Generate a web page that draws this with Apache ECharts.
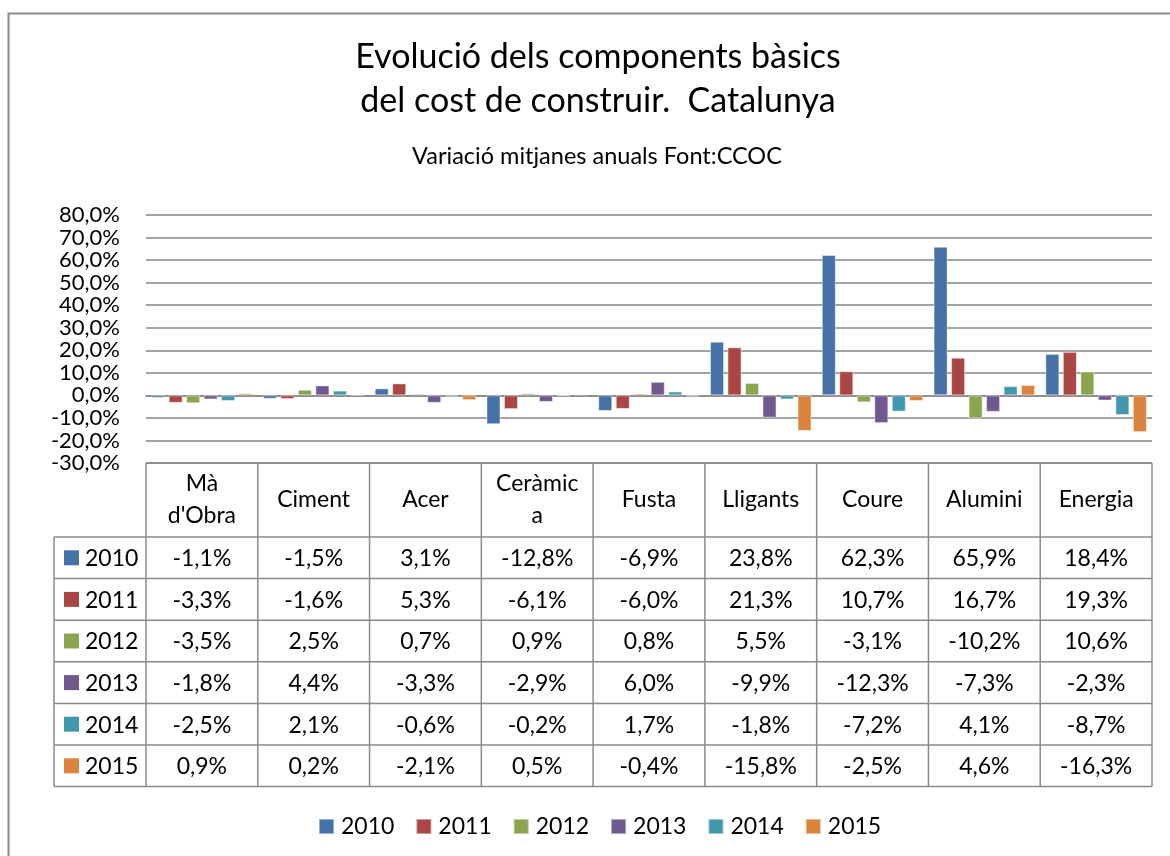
<!DOCTYPE html>
<html>
<head>
<meta charset="utf-8">
<script src="https://cdn.jsdelivr.net/npm/echarts@6/dist/echarts.min.js"></script>
<style>html,body{margin:0;padding:0;background:#fff}#c{width:1170px;height:856px}</style>
</head>
<body>
<div id="c"></div>
<script>
var categories = ["Mà\nd'Obra", "Ciment", "Acer", "Ceràmic\na", "Fusta", "Lligants", "Coure", "Alumini", "Energia"];
var years = ["2010", "2011", "2012", "2013", "2014", "2015"];
var v2010 = [-1.1, -1.5, 3.1, -12.8, -6.9, 23.8, 62.3, 65.9, 18.4];
var v2011 = [-3.3, -1.6, 5.3, -6.1, -6.0, 21.3, 10.7, 16.7, 19.3];
var v2012 = [-3.5, 2.5, 0.7, 0.9, 0.8, 5.5, -3.1, -10.2, 10.6];
var v2013 = [-1.8, 4.4, -3.3, -2.9, 6.0, -9.9, -12.3, -7.3, -2.3];
var v2014 = [-2.5, 2.1, -0.6, -0.2, 1.7, -1.8, -7.2, 4.1, -8.7];
var v2015 = [0.9, 0.2, -2.1, 0.5, -0.4, -15.8, -2.5, 4.6, -16.3];
var seriesValues = [v2010, v2011, v2012, v2013, v2014, v2015];
var colors = ['#4572A7', '#AA4643', '#89A54E', '#71588F', '#4198AF', '#DB843D'];
var yMin = -30, yMax = 80, yStep = 10;

var FONT = 'Lato, "Open Sans", sans-serif';
var W = 1170, H = 856;
var gL = 146, gR = 1152, gT = 215, gB = 463;
var headerH = 74, rowH = 41.6, labelL = 54;
var colW = (gR - gL) / categories.length;
var lineColor = '#8a8a8a';
var cellFont = '23px ' + FONT;

function fmt(v) { return v.toFixed(1).replace('.', ',') + '%'; }

var graphics = [];
// outer chart border
graphics.push({type: 'rect', shape: {x: 8.5, y: 13.5, width: 1300, height: 1000}, style: {fill: 'none', stroke: '#8c8c8c', lineWidth: 2}, silent: true});
var rowTop = gB + headerH;
var tableBottom = rowTop + rowH * years.length;
// horizontal lines
graphics.push({type: 'line', shape: {x1: gL, y1: gB, x2: gR, y2: gB}, style: {stroke: lineColor, lineWidth: 1.5}});
for (var k = 0; k <= years.length; k++) {
  var y = rowTop + k * rowH;
  graphics.push({type: 'line', shape: {x1: labelL, y1: y, x2: gR, y2: y}, style: {stroke: lineColor, lineWidth: 1.5}});
}
// vertical lines
graphics.push({type: 'line', shape: {x1: labelL, y1: rowTop, x2: labelL, y2: tableBottom}, style: {stroke: lineColor, lineWidth: 1.5}});
for (var i = 0; i <= categories.length; i++) {
  var x = gL + i * colW;
  graphics.push({type: 'line', shape: {x1: x, y1: gB, x2: x, y2: tableBottom}, style: {stroke: lineColor, lineWidth: 1.5}});
}
// header texts
categories.forEach(function (c, i) {
  graphics.push({type: 'text', x: gL + (i + 0.5) * colW, y: gB + headerH / 2,
    style: {text: c, font: cellFont, fill: '#000', align: 'center', verticalAlign: 'middle', lineHeight: 32}});
});
// rows
years.forEach(function (yr, r) {
  var cy = rowTop + (r + 0.5) * rowH;
  graphics.push({type: 'rect', shape: {x: 64, y: cy - 7.5, width: 15, height: 15}, style: {fill: colors[r]}});
  graphics.push({type: 'text', x: 85, y: cy + 1, style: {text: yr, font: cellFont, fill: '#000', align: 'left', verticalAlign: 'middle'}});
  seriesValues[r].forEach(function (v, i) {
    graphics.push({type: 'text', x: gL + (i + 0.5) * colW, y: cy + 1,
      style: {text: fmt(v), font: cellFont, fill: '#000', align: 'center', verticalAlign: 'middle'}});
  });
});

var series = years.map(function (yr, r) {
  return {
    name: yr, type: 'bar', data: seriesValues[r], barWidth: 14, barGap: '25%',
    itemStyle: {color: colors[r], borderColor: 'rgba(255,255,255,0.45)', borderWidth: 1},
    animation: false
  };
});

var chart = echarts.init(document.getElementById('c'), null, {renderer: 'canvas'});
chart.setOption({
  backgroundColor: '#fff',
  animation: false,
  title: [
    {text: 'Evolució dels components bàsics\ndel cost de construir.  Catalunya', left: 598, textAlign: 'center', top: 35, padding: 0,
      textStyle: {fontFamily: FONT, fontSize: 34, fontWeight: 'normal', color: '#000', lineHeight: 44}},
    {text: 'Variació mitjanes anuals Font:CCOC', left: 597, textAlign: 'center', top: 144, padding: 0,
      textStyle: {fontFamily: FONT, fontSize: 23.5, fontWeight: 'normal', color: '#000'}}
  ],
  legend: {
    data: years, left: 318, top: 815, padding: 0, icon: 'rect', itemWidth: 15, itemHeight: 15, itemGap: 21,
    textStyle: {fontFamily: FONT, fontSize: 23, color: '#000', padding: [0, 0, 0, 2]}
  },
  grid: {left: gL, right: W - gR, top: gT, bottom: H - gB, containLabel: false},
  xAxis: {
    type: 'category', data: categories,
    axisLabel: {show: false}, axisTick: {show: false},
    axisLine: {show: true, lineStyle: {color: '#868686', width: 1.5}}
  },
  yAxis: {
    type: 'value', min: yMin, max: yMax, interval: yStep,
    axisLine: {show: false}, axisTick: {show: false},
    axisLabel: {formatter: fmt, fontFamily: FONT, fontSize: 22, color: '#000', margin: 26,
      showMinLabel: true, showMaxLabel: true, hideOverlap: false},
    splitLine: {lineStyle: {color: '#868686', width: 1.5}}
  },
  series: series,
  graphic: graphics
});
</script>
</body>
</html>
